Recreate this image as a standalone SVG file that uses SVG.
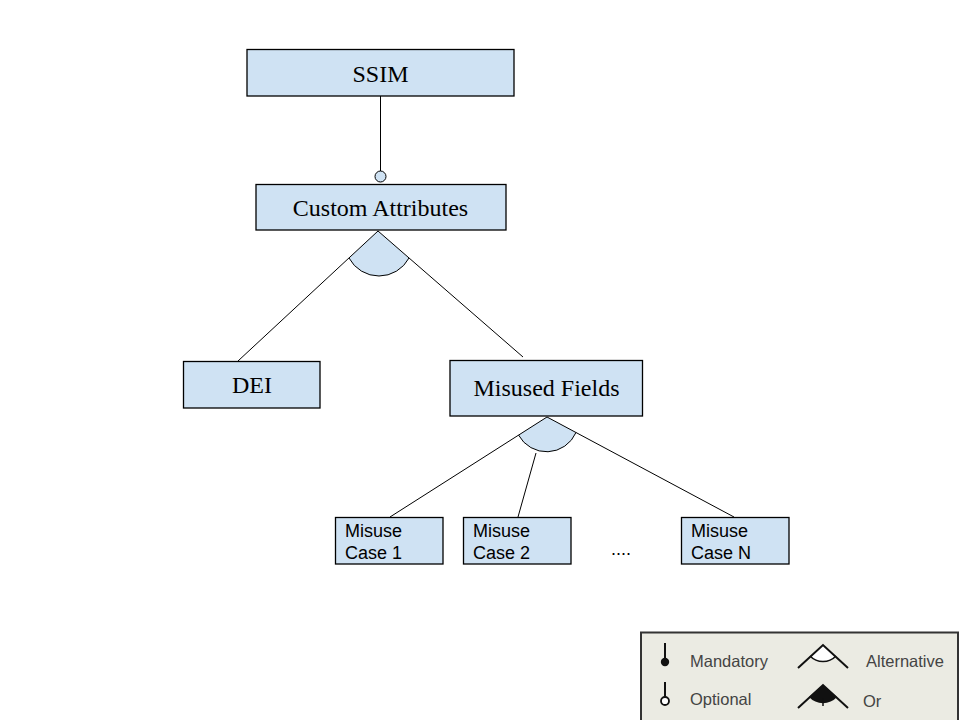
<svg xmlns="http://www.w3.org/2000/svg" width="960" height="720" viewBox="0 0 960 720">
<defs>
<style>
.box{fill:#cfe2f3;stroke:#000;stroke-width:1.3}
.ser{font-family:"Liberation Serif","Times New Roman",serif;font-size:24px;fill:#000;text-anchor:middle}
.san{font-family:"Liberation Sans",Arial,sans-serif;font-size:18px;fill:#000}
.ln{stroke:#000;stroke-width:1;fill:none}
.wedge{fill:#cfe2f3;stroke:none}
.arc{fill:none;stroke:#000;stroke-width:1}
.lg{font-family:"Liberation Sans",Arial,sans-serif;font-size:16.5px;fill:#444}
</style>
</defs>
<rect width="960" height="720" fill="#fff"/>
<g id="connectors">
<line class="ln" x1="380.5" y1="96" x2="380.5" y2="171"/>
<circle cx="380.5" cy="176.5" r="5.5" fill="#cfe2f3" stroke="#000" stroke-width="1"/>
<path class="wedge" d="M378 231 L349 258 A34 34 0 0 0 409 258 Z"/>
<path class="arc" d="M349 258 A34 34 0 0 0 409 258"/>
<line class="ln" x1="378" y1="231" x2="238" y2="361"/>
<line class="ln" x1="378" y1="231" x2="523" y2="357"/>
<path class="wedge" d="M547 417 L518.5 435 A32 32 0 0 0 576 432.5 Z"/>
<path class="arc" d="M518.5 435 A32 32 0 0 0 576 432.5"/>
<line class="ln" x1="547" y1="417" x2="390" y2="517"/>
<line class="ln" x1="547" y1="417" x2="734" y2="517"/>
<line class="ln" x1="536" y1="453" x2="518" y2="517"/>
</g>
<g id="ssim">
<rect class="box" x="247" y="49.5" width="267" height="46.5"/>
<text class="ser" x="380.5" y="82">SSIM</text>
</g>
<g id="custom-attributes">
<rect class="box" x="256" y="184.5" width="250" height="45.5"/>
<text class="ser" x="380.5" y="216">Custom Attributes</text>
</g>
<g id="dei">
<rect class="box" x="183.5" y="361.5" width="136.5" height="46.5"/>
<text class="ser" x="252" y="393">DEI</text>
</g>
<g id="misused-fields">
<rect class="box" x="450" y="360.5" width="192.5" height="55.5"/>
<text class="ser" x="546.5" y="396">Misused Fields</text>
</g>
<g id="case1">
<rect class="box" x="335.5" y="517.5" width="107.5" height="46.5"/>
<text class="san" x="345" y="537">Misuse</text>
<text class="san" x="345" y="558.5">Case 1</text>
</g>
<g id="case2">
<rect class="box" x="463.5" y="517.5" width="107.5" height="46.5"/>
<text class="san" x="473" y="537">Misuse</text>
<text class="san" x="473" y="558.5">Case 2</text>
</g>
<text class="san" x="611" y="555">....</text>
<g id="caseN">
<rect class="box" x="681.5" y="517.5" width="107.5" height="46.5"/>
<text class="san" x="691" y="537">Misuse</text>
<text class="san" x="691" y="558.5">Case N</text>
</g>
<g id="legend">
<rect x="641" y="632.5" width="317" height="90" fill="#ebebe3" stroke="#333" stroke-width="2"/>
<line x1="665" y1="643" x2="665" y2="660" stroke="#111" stroke-width="2"/>
<circle cx="665" cy="662" r="4.2" fill="#111"/>
<text class="lg" x="690" y="667">Mandatory</text>
<line x1="665" y1="682" x2="665" y2="697" stroke="#111" stroke-width="2"/>
<circle cx="665" cy="701" r="4" fill="#fff" stroke="#111" stroke-width="1.8"/>
<text class="lg" x="690" y="705">Optional</text>
<path d="M810 656 A18 18 0 0 0 836 656 L823 645 Z" fill="#fff" stroke="none"/>
<path d="M810 656 A18 18 0 0 0 836 656" fill="none" stroke="#111" stroke-width="1.5"/>
<polyline points="798,668 823,645 848,668" fill="none" stroke="#111" stroke-width="2"/>
<text class="lg" x="866" y="667">Alternative</text>
<path d="M823 685 L809 697 A19 19 0 0 0 837 697 Z" fill="#111"/>
<polyline points="798,708 823,685 848,708" fill="none" stroke="#111" stroke-width="2"/>
<line x1="823" y1="698" x2="823" y2="706" stroke="#111" stroke-width="1.5"/>
<text class="lg" x="863" y="707">Or</text>
</g>
</svg>
